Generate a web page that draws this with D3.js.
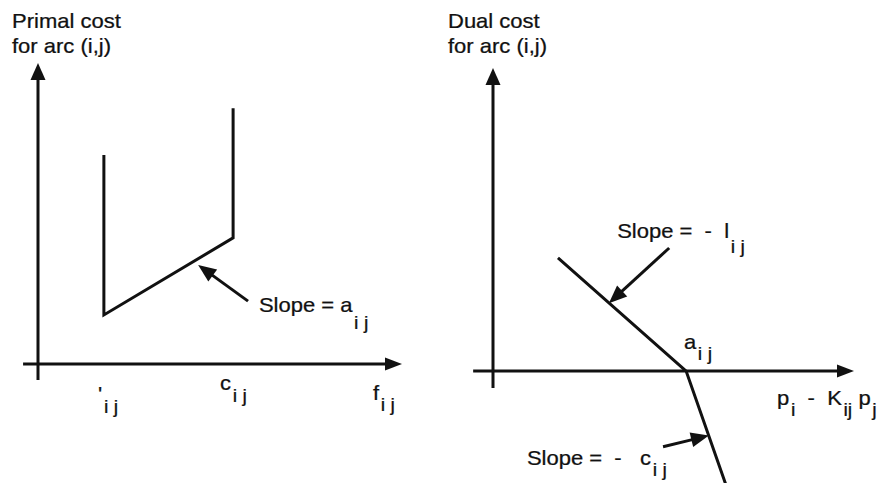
<!DOCTYPE html>
<html>
<head>
<meta charset="utf-8">
<script src="https://cdn.jsdelivr.net/npm/d3@7"></script>
<style>
  body { margin: 0; background: #fff; }
  text { font-family: "Liberation Sans", Arial, sans-serif; fill: #111; stroke: #111; stroke-width: 0.25px; white-space: pre; }
</style>
</head>
<body>
<script>
// primal cost curve (flow f_ij on x, cost on y)
const primalX = [1.81, 1.81, 5.36, 5.36];
const primalY = [6.94, 1.63, 4.19, 8.5];
// dual cost curve (p_i - K_ij p_j on x)
const dualX = [1.80, 5.35, 6.45];
const dualY = [3.73, 0, -3.75];

// axis extents in data units [min, max]
const primalXRange = [-0.41, 10];
const primalYRange = [-0.53, 10];
const dualXRange = [-0.55, 10];
const dualYRange = [-0.56, 10];

// labels: [x, y, subscript drop, main, sub, main, sub, ...]
const primalLabels = [
  [1.65, -1.24, 12, "'", "i j"],
  [5.0, -0.85, 12, "c", "i j"],
  [9.2, -1.2, 11, "f", "i j"],
  [6.07, 1.73, 17, "Slope = a", "i j"]
];
const dualLabels = [
  [3.44, 4.39, 15, "Slope =  -  l", "i j"],
  [5.29, 0.73, 11, "a", "i j"],
  [7.87, -1.12, 11, "p", "i", "  -  K", "ij", " p", "j"],
  [0.94, -3.1, 11, "Slope =  -   c", "i j"]
];
// annotation arrows: [fromX, fromY, tipX, tipY]
const primalArrows = [[5.77, 2.09, 4.40, 3.29]];
const dualArrows = [[4.88, 4.06, 3.21, 2.24], [4.71, -2.50, 5.98, -2.13]];

const titles = [["Primal cost", "for arc (i,j)"], ["Dual cost", "for arc (i,j)"]];

const stretch = 1.1;

const svg = d3.select("body").append("svg")
  .attr("width", 882)
  .attr("height", 483);

function arrow(g, x1, y1, x2, y2, len, wid, sw) {
  const a = Math.atan2(y2 - y1, x2 - x1);
  const bx = x2 - len * Math.cos(a), by = y2 - len * Math.sin(a);
  g.append("line")
    .attr("x1", x1).attr("y1", y1)
    .attr("x2", bx + 2 * Math.cos(a)).attr("y2", by + 2 * Math.sin(a))
    .attr("stroke", "#111")
    .attr("stroke-width", sw);
  const px = -Math.sin(a) * wid / 2, py = Math.cos(a) * wid / 2;
  g.append("path")
    .attr("d", `M${x2},${y2}L${bx + px},${by + py}L${bx - px},${by - py}Z`)
    .attr("fill", "#111");
}

function panel(opts) {
  const g = svg.append("g");
  const x = d3.scaleLinear().domain([0, 10]).range(opts.xr);
  const y = d3.scaleLinear().domain([0, 10]).range(opts.yr);

  // titles
  opts.title.forEach((t, i) => {
    g.append("text")
      .attr("transform", `translate(${opts.tx},${28 + i * 25}) scale(${stretch},1)`)
      .style("font-size", "20px")
      .text(t);
  });

  // axes: plain lines with arrow heads
  arrow(g, x(0), y(opts.yRange[0]), x(0), y(opts.yRange[1]), 17, 15, 3);
  arrow(g, x(opts.xRange[0]), y(0), x(opts.xRange[1]), y(0), 17, 13, 3);

  // curve
  g.append("path")
    .datum(d3.zip(opts.xs, opts.ys))
    .attr("fill", "none")
    .attr("stroke", "#111")
    .attr("stroke-width", 3)
    .attr("stroke-linejoin", "miter")
    .attr("d", d3.line().x(d => x(d[0])).y(d => y(d[1])));

  opts.arrows.forEach(a => arrow(g, x(a[0]), y(a[1]), x(a[2]), y(a[3]), 18, 15, 3));

  opts.labels.forEach(l => {
    const drop = l[2];
    const t = g.append("text")
      .attr("transform", `translate(${x(l[0])},${y(l[1])}) scale(${stretch},1)`)
      .style("font-size", "20px");
    for (let k = 3; k < l.length; k += 2) {
      t.append("tspan").attr("dy", k === 3 ? 0 : -drop)
        .style("font-size", "20px").text(l[k]);
      t.append("tspan").attr("dy", drop).attr("dx", 1.5).style("font-size", "18px").text(l[k + 1]);
    }
  });
}

panel({
  xr: [38, 402], yr: [364, 63], tx: 12,
  title: titles[0],
  xRange: primalXRange, yRange: primalYRange,
  xs: primalX, ys: primalY,
  labels: primalLabels, arrows: primalArrows
});

panel({
  xr: [493, 854], yr: [371, 68], tx: 448,
  title: titles[1],
  xRange: dualXRange, yRange: dualYRange,
  xs: dualX, ys: dualY,
  labels: dualLabels, arrows: dualArrows
});
</script>
</body>
</html>
